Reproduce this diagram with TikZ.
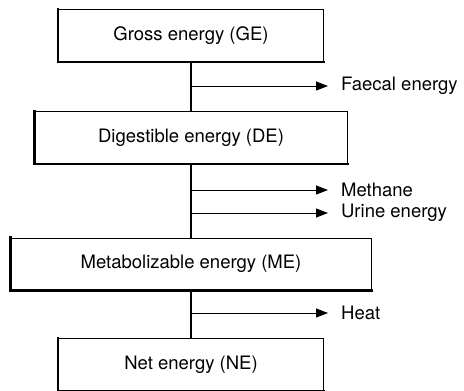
\documentclass[tikz,border=0pt]{standalone}
\usepackage{fontspec}
\setmainfont{TeX Gyre Heros}
\usetikzlibrary{arrows.meta, positioning}

\begin{document}
\begin{tikzpicture}[
  x=1pt, y=-1pt,
  font=\fontsize{18.5}{22}\selectfont,
  stage/.style={
    rectangle, draw=black, line width=0.9pt,
    minimum height=52pt, inner sep=0pt, fill=white
  },
  spine/.style={black, line width=1.6pt},
  arrow/.style={-{Triangle[length=12pt, width=9pt]}, black, line width=1pt},
  outlabel/.style={anchor=west, inner xsep=13pt, inner ysep=0pt},
]
\useasboundingbox (0,0) rectangle (464,391);

% energy stages
\node[stage, minimum width=265pt] (ge) at (191, 35.5) {Gross energy (GE)};
\node[stage, minimum width=312pt] (de) at (191, 137.5) {Digestible energy (DE)};
\node[stage, minimum width=360pt] (me) at (191, 264) {Metabolizable energy (ME)};
\node[stage, minimum width=265pt] (ne) at (191, 364.5) {Net energy (NE)};

% heavy left and bottom edges
\foreach \s in {ge, de, me, ne}
  \draw[line width=2.2pt, line cap=rect] (\s.north west) -- (\s.south west) -- (\s.south east);

% main flow
\draw[spine] (ge.south) -- (de.north);
\draw[spine] (de.south) -- (me.north);
\draw[spine] (me.south) -- (ne.north);

% losses
\coordinate (b_fae) at (191, 86);
\coordinate (b_met) at (191, 190);
\coordinate (b_uri) at (191, 213);
\coordinate (b_hea) at (191, 313);
\node[outlabel] (fae) at (328, 86)  {Faecal energy};
\node[outlabel] (met) at (328, 190) {Methane};
\node[outlabel] (uri) at (328, 213) {Urine energy};
\node[outlabel] (hea) at (328, 313) {Heat};
\draw[arrow] (b_fae) -- (fae.west);
\draw[arrow] (b_met) -- (met.west);
\draw[arrow] (b_uri) -- (uri.west);
\draw[arrow] (b_hea) -- (hea.west);

\end{tikzpicture}
\end{document}
